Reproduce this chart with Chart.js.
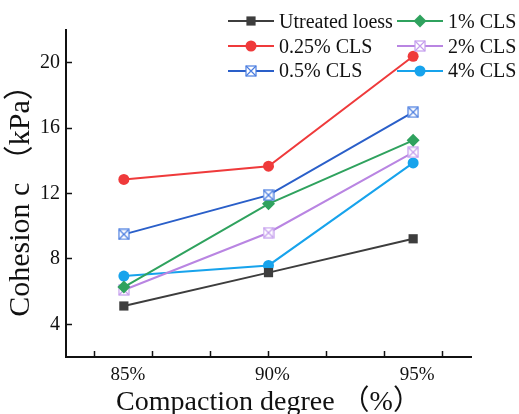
<!DOCTYPE html>
<html>
<head>
<meta charset="utf-8">
<script src="https://cdn.jsdelivr.net/npm/chart.js@4/dist/chart.umd.min.js"></script>
<style>
  html, body { margin: 0; padding: 0; background: #fff; }
  #wrap { position: relative; width: 519px; height: 414px; }
  #legend {
    position: absolute; left: 228px; top: 9px;
    display: grid; grid-template-columns: 169px auto;
    font-family: 'Liberation Serif', 'Times New Roman', serif;
    font-size: 20px; color: #111;
  }
  .item { display: flex; align-items: center; height: 24.7px; white-space: nowrap; }
  .item canvas { margin-right: 3px; }
</style>
</head>
<body>
<div id="wrap">
  <canvas id="myChart" width="519" height="414"></canvas>
  <div id="legend"></div>
</div>
<script>
// data
const compaction = ['85%', '90%', '95%']
const seriesNames = ['Utreated loess', '0.25% CLS', '0.5% CLS', '1% CLS', '2% CLS', '4% CLS']
const untreated = [5.12, 7.16, 9.23]
const cls025 = [12.86, 13.67, 20.39]
const cls05 = [9.50, 11.90, 16.97]
const cls1 = [6.28, 11.37, 15.25]
const cls2 = [6.10, 9.60, 14.52]
const cls4 = [6.95, 7.60, 13.87]
const yTicks = [4, 8, 12, 16, 20]
const xTickMarks = [-0.2, 0.2, 0.6, 1, 1.4, 1.8, 2.2]

const serif = "'Liberation Serif', 'Times New Roman', 'Noto Sans CJK SC', serif"

function crossSquare(color, size) {
    const c = document.createElement('canvas')
    c.width = size; c.height = size
    const g = c.getContext('2d')
    g.fillStyle = '#fff'
    g.fillRect(1, 1, size - 2, size - 2)
    g.strokeStyle = color
    g.lineWidth = 1.2
    g.strokeRect(1, 1, size - 2, size - 2)
    g.beginPath()
    g.moveTo(1, 1); g.lineTo(size - 1, size - 1)
    g.moveTo(size - 1, 1); g.lineTo(1, size - 1)
    g.stroke()
    return c
}

const styles = [
    { line: '#3d3d3d', fill: '#3d3d3d', point: 'rect', r: 6.5 },
    { line: '#ef3a3b', fill: '#ef3a3b', point: 'circle', r: 5.5 },
    { line: '#2a5fc9', fill: '#ffffff', point: crossSquare('#4a7de0', 12), r: 6 },
    { line: '#2fa25e', fill: '#2fa25e', point: 'rectRot', r: 6.5 },
    { line: '#b985e2', fill: '#ffffff', point: crossSquare('#c49ded', 12), r: 6 },
    { line: '#17a3ec', fill: '#17a3ec', point: 'circle', r: 5.5 },
]
const allSeries = [untreated, cls025, cls05, cls1, cls2, cls4]

const datasets = allSeries.map((vals, i) => ({
    label: seriesNames[i],
    data: vals.map((v, k) => ({ x: k, y: v })),
    borderColor: styles[i].line,
    backgroundColor: styles[i].fill,
    pointBackgroundColor: styles[i].fill,
    pointBorderColor: styles[i].fill,
    pointStyle: styles[i].point,
    pointRadius: styles[i].r,
    pointBorderWidth: 0,
    borderWidth: 2,
    tension: 0,
}))

const ctx = document.getElementById('myChart')
const chart = new Chart(ctx, {
    type: 'line',
    data: { datasets: datasets },
    options: {
        responsive: false,
        animation: false,
        layout: { padding: { left: 0, top: 30, right: 48, bottom: 0 } },
        plugins: { legend: { display: false }, tooltip: { enabled: false } },
        scales: {
            x: {
                type: 'linear', min: -0.4, max: 2.4,
                afterBuildTicks: (s) => {
                    s.ticks = [-0.2, 0, 0.2, 0.6, 1, 1.4, 1.8, 2, 2.2].map(v => ({ value: v }))
                },
                afterFit: (s) => { s.height = 57 },
                grid: {
                    drawOnChartArea: false, tickLength: -6, tickWidth: 1.5,
                    tickColor: (c) => (c.tick && xTickMarks.indexOf(c.tick.value) < 0) ? 'rgba(0,0,0,0)' : '#111'
                },
                border: { color: '#111', width: 2 },
                ticks: {
                    autoSkip: false, maxRotation: 0, padding: 13, labelOffset: 4, color: '#111',
                    font: { family: serif, size: 19 },
                    callback: (v) => Number.isInteger(v) ? compaction[v] : ''
                },
                title: {
                    display: true, text: 'Compaction degree （%）', color: '#111', padding: 0,
                    font: { family: serif, size: 28, lineHeight: 0.8 }
                }
            },
            y: {
                min: 2, max: 22,
                afterBuildTicks: (s) => { s.ticks = yTicks.map(v => ({ value: v })) },
                afterFit: (s) => { s.width = 66 },
                grid: { drawOnChartArea: false, tickLength: -6, tickWidth: 1.5, tickColor: '#111' },
                border: { color: '#111', width: 2 },
                ticks: { padding: 12, color: '#111', font: { family: serif, size: 20 } },
                title: {
                    display: true, text: 'Cohesion c （kPa）', color: '#111', padding: { top: 3, bottom: 0 },
                    font: { family: serif, size: 30 }
                }
            }
        }
    }
})

// legend laid out in two columns like the figure
const order = [0, 3, 1, 4, 2, 5]
const legendEl = document.getElementById('legend')
order.forEach((i) => {
    const item = document.createElement('div')
    item.className = 'item'
    const sw = document.createElement('canvas')
    sw.width = 48; sw.height = 18
    const g = sw.getContext('2d')
    g.strokeStyle = styles[i].line
    g.lineWidth = 2
    g.beginPath(); g.moveTo(0, 9); g.lineTo(46, 9); g.stroke()
    g.fillStyle = styles[i].fill
    if (Chart.helpers && Chart.helpers.drawPoint) {
        Chart.helpers.drawPoint(g, { pointStyle: styles[i].point, radius: styles[i].r, borderWidth: 0, rotation: 0 }, 23, 9)
    }
    item.appendChild(sw)
    const t = document.createElement('span')
    t.textContent = seriesNames[i]
    item.appendChild(t)
    legendEl.appendChild(item)
})
</script>
</body>
</html>
